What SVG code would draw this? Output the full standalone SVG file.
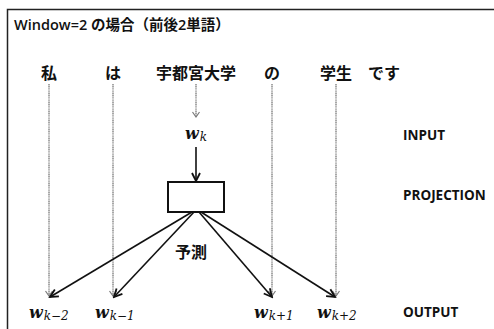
<svg xmlns="http://www.w3.org/2000/svg" width="494" height="329" viewBox="0 0 494 329">
<style>
.t{font-family:"Open Sans","Noto Sans CJK JP",sans-serif;font-weight:600;fill:#111}
.jp{font-family:"Noto Sans CJK JP",sans-serif;font-weight:bold;font-size:16px;fill:#111;text-anchor:middle}
.lab{font-family:"Open Sans","Liberation Sans",sans-serif;font-weight:bold;font-size:13.5px;fill:#111}
.w{font-family:"DejaVu Serif","Liberation Serif",serif;font-weight:bold;font-style:italic;font-size:16px;fill:#111}
.sub{font-family:"DejaVu Serif","Liberation Serif",serif;font-style:italic;font-size:12px;fill:#111}
.g{stroke:#8a8a8a;stroke-width:1.5;stroke-dasharray:1.2 0.6;fill:none}
.b{stroke:#111;stroke-width:1.6;fill:none}
</style>
<defs>
<marker id="ag" markerWidth="10" markerHeight="10" refX="8" refY="5" orient="auto" markerUnits="userSpaceOnUse" viewBox="0 0 10 10">
<path d="M3,1.5 L8,5 L3,8.5" fill="none" stroke="#7a7a7a" stroke-width="1.2"/>
</marker>
<marker id="ab" markerWidth="12" markerHeight="12" refX="10" refY="5" orient="auto" markerUnits="userSpaceOnUse" viewBox="0 0 12 10">
<path d="M2,1 L10,5 L2,9" fill="none" stroke="#111" stroke-width="1.8"/>
</marker>
</defs>
<rect width="494" height="329" fill="#fff"/>
<path d="M7.5,329 V9.5 H494" fill="none" stroke="#222" stroke-width="1.5"/>
<text class="t" x="14" y="30" font-size="14.5">Window=2 の場合（前後2単語）</text>
<g id="words">
<text class="jp" x="49" y="79">私</text>
<text class="jp" x="113" y="79">は</text>
<text class="jp" x="196" y="79">宇都宮大学</text>
<text class="jp" x="272" y="79">の</text>
<text class="jp" x="336" y="79">学生</text>
<text class="jp" x="384" y="79">です</text>
</g>
<g id="connectors">
<line class="g" x1="49" y1="84" x2="49" y2="296" marker-end="url(#ag)"/>
<line class="g" x1="113" y1="84" x2="113" y2="296" marker-end="url(#ag)"/>
<line class="g" x1="196" y1="84" x2="196" y2="117" marker-end="url(#ag)"/>
<line class="g" x1="272" y1="84" x2="272" y2="296" marker-end="url(#ag)"/>
<line class="g" x1="336" y1="84" x2="336" y2="296" marker-end="url(#ag)"/>
<line class="b" x1="196" y1="147" x2="196" y2="181" marker-end="url(#ab)"/>
<line class="b" x1="192" y1="212" x2="50" y2="297" marker-end="url(#ab)"/>
<line class="b" x1="194" y1="212" x2="114" y2="297" marker-end="url(#ab)"/>
<line class="b" x1="199" y1="212" x2="272" y2="297" marker-end="url(#ab)"/>
<line class="b" x1="201" y1="212" x2="335" y2="297" marker-end="url(#ab)"/>
</g>
<g id="wk">
<text x="185" y="139"><tspan class="w">w</tspan><tspan class="sub" dx="1" dy="2">k</tspan></text>
</g>
<g id="projection">
<rect x="168" y="182" width="56" height="30" fill="#fff" stroke="#111" stroke-width="2"/>
</g>
<text id="yosoku" class="jp" x="191" y="258" font-size="15">予測</text>
<g id="outputs">
<text x="29" y="318"><tspan class="w">w</tspan><tspan class="sub" dx="1" dy="2">k−2</tspan></text>
<text x="95" y="318"><tspan class="w">w</tspan><tspan class="sub" dx="1" dy="2">k−1</tspan></text>
<text x="254" y="318"><tspan class="w">w</tspan><tspan class="sub" dx="1" dy="2">k+1</tspan></text>
<text x="317" y="318"><tspan class="w">w</tspan><tspan class="sub" dx="1" dy="2">k+2</tspan></text>
</g>
<text class="lab" x="403" y="140">INPUT</text>
<text class="lab" x="403" y="200">PROJECTION</text>
<text class="lab" x="403" y="317">OUTPUT</text>
</svg>
